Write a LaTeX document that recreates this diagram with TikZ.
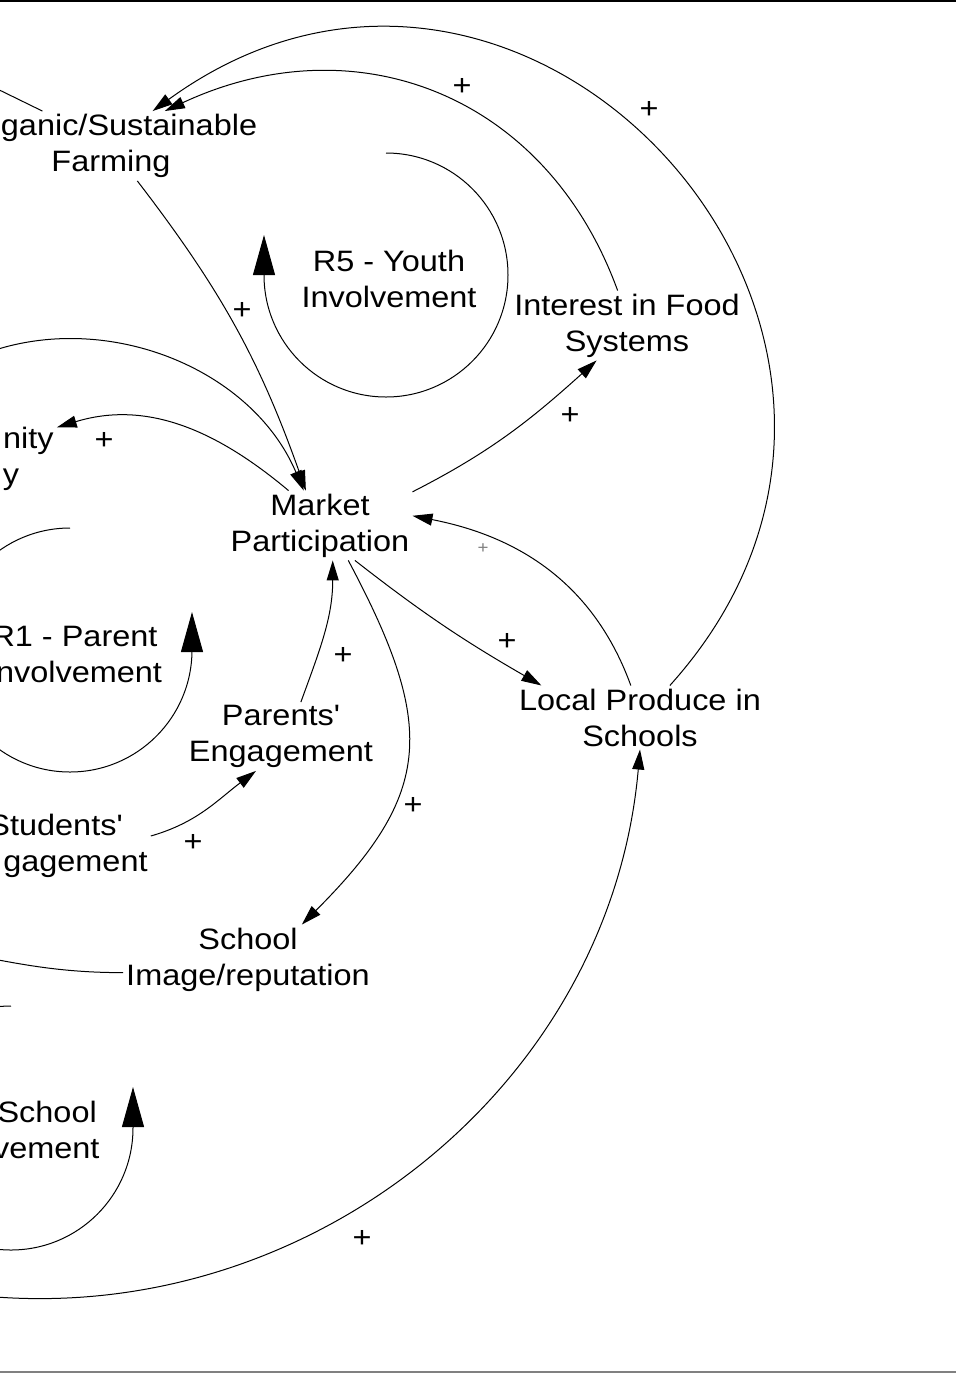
\documentclass[tikz,border=0pt]{standalone}
\usepackage{fontspec}
\newfontfamily\cldfont{Liberation Sans}[FakeStretch=1.1]
\usetikzlibrary{arrows.meta,calc,positioning}
\tikzstyle{cld}=[
  x=1pt,y=1pt,font=\cldfont\fontsize{29.5pt}{36pt}\selectfont
]
\tikzstyle{var}=[
  align=center,inner sep=3pt
]
\tikzstyle{link}=[
  line width=1pt,-{Triangle[length=20pt,width=12pt]}
]
\tikzstyle{rim}=[
  line width=1pt
]
\tikzstyle{loopline}=[
  line width=1pt,-{Triangle[length=40pt,width=22pt]}
]
\tikzstyle{pol}=[
  inner sep=0pt
]
\tikzstyle{faintpol}=[
  inner sep=0pt,text=gray,font=\cldfont\fontsize{17pt}{20pt}\selectfont
]

\begin{document}
\begin{tikzpicture}[cld]
    \useasboundingbox (0,0) rectangle (956,-1374);
    \clip (0,0) rectangle (956,-1374);
    \draw [line width=2pt] (0,-1) -- (956,-1);
    \draw [line width=2pt,gray] (0,-1372) -- (956,-1372);
    % variables
    \node (farm) at (111,-146) [var] {\hphantom{Or}ganic/Sustainable\\Farming};
    \node (interest) at (627,-325.5) [var] {Interest in Food\\Systems};
    \node (community) at (-28.5,-458.5) [var] {\hphantom{Commu}nity\\\hphantom{Vitalit}y};
    \node (market) at (320,-525.5) [var] {Market\\Participation};
    \node (parents) at (281,-736.5) [var] {Parents'\\Engagement};
    \node (local) at (640,-717.5) [var] {Local Produce in\\Schools};
    \node (students) at (55.6,-846) [var] {Students'\\\hphantom{En}gagement};
    \node (image) at (248,-959.5) [var] {School\\Image/reputation};
    % loop names
    \node (youth) at (389,-279) [var] {R5 - Youth\\Involvement};
    \node (parentloop) at (74.5,-654.5) [var] {R1 - Parent\\\hphantom{I}nvolvement};
    \node (schoolloop) at (12,-1129.5) [var] {\hphantom{R2 - }School\\\hphantom{Invol}vement};
    % ends that leave the picture
    \coordinate (offFarm) at (-60,-61);
    \coordinate (offMarket) at (-60,-376);
    \coordinate (offImage) at (-80,-945);
    \coordinate (offLocal) at (-80,-1286.5);
    % links
    \draw [link] (farm.-53) to[bend left=9] (market.112);
    \draw [link] (offMarket) to[out=33,in=113] (market.115);
    \draw [link] (market.132) to[out=140,in=17] (community.20);
    \draw [link] (market.20) to[out=27,in=-138] (interest.-131);
    \draw [link] (interest.105) to[out=110,in=25,looseness=1.1] (farm.33);
    \draw [link] (local.47) to[out=48,in=36,looseness=1.54] (farm.40);
    \draw [link] (local.106) to[out=110,in=-11] (market.6);
    \draw [link] (market.-45) to[out=-38,in=150] (local.162);
    \draw [link] (market.-51) to[out=-62,in=45,looseness=1.3] (image.33);
    \draw [link] (parents.60) to[out=70,in=-90] (market.-70);
    \draw [link] (students.6) to[out=16,in=-143] (parents.-126);
    \draw [link] (offLocal) to[out=-11.5,in=-95,looseness=1.02] (local.south);
    \draw [rim] (farm.153) -- (offFarm);
    \draw [rim] (image.186) to[out=180,in=-10] (offImage);
    % loops
    \draw [loopline] ($(youth)+(-3,126)$) arc[start angle=90,end angle=-180,radius=122] -- ++(0,40);
    \draw [loopline] ($(parentloop)+(-4.5,126.5)$) arc[start angle=90,end angle=360,radius=122] -- ++(0,38);
    \draw [loopline] ($(schoolloop)+(-1,123.5)$) arc[start angle=90,end angle=360,radius=122] -- ++(0,41);
    % polarities
    \node (p1) at (462,-87) [pol] {+};
    \node (p2) at (649,-110) [pol] {+};
    \node (p3) at (242,-311) [pol] {+};
    \node (p4) at (104,-441) [pol] {+};
    \node (p5) at (570,-416) [pol] {+};
    \node (p6) at (483,-549) [faintpol] {+};
    \node (p7) at (507,-642) [pol] {+};
    \node (p8) at (343,-656) [pol] {+};
    \node (p9) at (413,-806) [pol] {+};
    \node (p10) at (193,-843) [pol] {+};
    \node (p11) at (362,-1239) [pol] {+};
\end{tikzpicture}
\end{document}
